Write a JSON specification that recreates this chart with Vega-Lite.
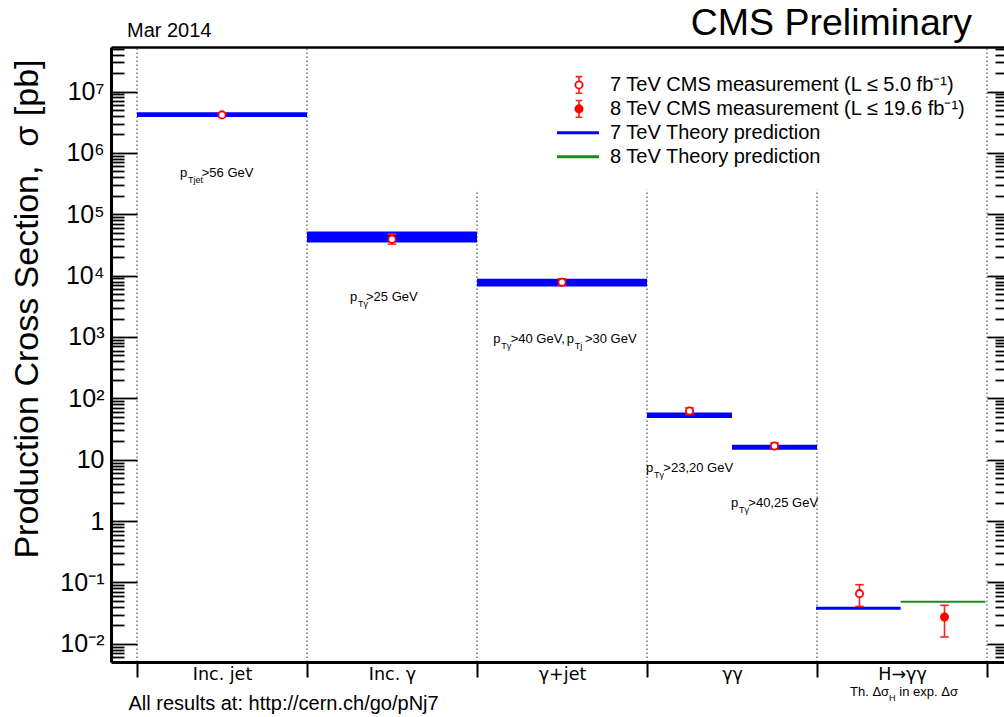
{
  "$schema": "https://vega.github.io/schema/vega-lite/v6.json",
  "width": 893,
  "height": 615,
  "autosize": {"type": "none"},
  "padding": {"left": 111, "top": 47, "right": 0, "bottom": 55},
  "background": "white",
  "config": {
    "font": "Liberation Sans",
    "view": {"stroke": null},
    "text": {"color": "black"}
  },
  "datasets": {
    "edges": [{"edge": 0}, {"edge": 1}, {"edge": 2}, {"edge": 3}, {"edge": 4}, {"edge": 5}],
    "theory": [
      {"process": "Inc. jet", "energy": "7 TeV", "from": 0, "to": 1, "low": 3850000, "high": 4600000},
      {"process": "Inc. γ", "energy": "7 TeV", "from": 1, "to": 2, "low": 34600, "high": 52300},
      {"process": "γ+jet", "energy": "7 TeV", "from": 2, "to": 3, "low": 6640, "high": 8870},
      {"process": "γγ (pT>23,20)", "energy": "7 TeV", "from": 3, "to": 3.5, "low": 47.8, "high": 58.9},
      {"process": "γγ (pT>40,25)", "energy": "7 TeV", "from": 3.5, "to": 4, "low": 14.6, "high": 17.5},
      {"process": "H→γγ", "energy": "7 TeV", "from": 3.994, "to": 4.492, "low": 0.0361, "high": 0.0404},
      {"process": "H→γγ", "energy": "8 TeV", "from": 4.492, "to": 4.99, "low": 0.0469, "high": 0.0506}
    ],
    "measured": [
      {"process": "Inc. jet", "energy": "7 TeV", "slot": 0.5, "sigma": 4160000, "low": 3900000, "high": 4450000},
      {"process": "Inc. γ", "energy": "7 TeV", "slot": 1.5, "sigma": 39300, "low": 32600, "high": 47400},
      {"process": "γ+jet", "energy": "7 TeV", "slot": 2.5, "sigma": 7830, "low": 6900, "high": 8900},
      {"process": "γγ (pT>23,20)", "energy": "7 TeV", "slot": 3.25, "sigma": 62.1, "low": 55, "high": 70},
      {"process": "γγ (pT>40,25)", "energy": "7 TeV", "slot": 3.75, "sigma": 16.7, "low": 14.9, "high": 18.8},
      {"process": "H→γγ", "energy": "7 TeV", "slot": 4.25, "sigma": 0.0658, "low": 0.0408, "high": 0.092},
      {"process": "H→γγ", "energy": "8 TeV", "slot": 4.75, "sigma": 0.0274, "low": 0.01295, "high": 0.0424}
    ],
    "key": [
      {"entry": "7 TeV CMS measurement (L ≤ 5.0 fb⁻¹)", "kind": "measurement", "energy": "7 TeV", "level": 12800000},
      {"entry": "8 TeV CMS measurement (L ≤ 19.6 fb⁻¹)", "kind": "measurement", "energy": "8 TeV", "level": 5210000},
      {"entry": "7 TeV Theory prediction", "kind": "theory", "energy": "7 TeV", "level": 2120000},
      {"entry": "8 TeV Theory prediction", "kind": "theory", "energy": "8 TeV", "level": 861000}
    ],
    "cuts": [
      {"sub": "Tjet", "rest": ">56 GeV", "at": 0.253, "restAt": 0.381, "level": 411000},
      {"sub": "Tγ", "rest": ">25 GeV", "at": 1.253, "restAt": 1.347, "level": 3810},
      {"sub": "Tγ", "rest": ">40 GeV,", "at": 2.096, "restAt": 2.198, "level": 796},
      {"sub": "Tj", "rest": ">30 GeV", "at": 2.528, "restAt": 2.635, "level": 796},
      {"sub": "Tγ", "rest": ">23,20 GeV", "at": 2.994, "restAt": 3.096, "level": 6.31},
      {"sub": "Tγ", "rest": ">40,25 GeV", "at": 3.494, "restAt": 3.596, "level": 1.7}
    ]
  },
  "resolve": {"axis": {"x": "independent", "y": "independent"}},
  "layer": [
    {
      "data": {"name": "edges"},
      "mark": {"type": "rule", "color": "#555555", "strokeWidth": 1.2, "strokeDash": [1.5, 2.5]},
      "encoding": {
        "x": {
          "field": "edge", "type": "quantitative",
          "scale": {"domain": [-0.153, 5.1], "nice": false, "zero": false},
          "axis": {
            "orient": "bottom", "zindex": 1, "grid": false,
            "values": [0, 0.5, 1, 1.5, 2, 2.5, 3, 3.5, 4, 4.5, 5],
            "domainColor": "black", "domainWidth": 3,
            "tickColor": "black", "tickWidth": 2, "tickSize": 15,
            "tickOpacity": {"condition": {"test": "datum.value % 1 != 0", "value": 0}, "value": 1},
            "labelExpr": "datum.value % 1 == 0 ? '' : ['Inc. jet','Inc. γ','γ+jet','γγ','H→γγ'][floor(datum.value)]",
            "labelFont": "DejaVu Sans",
            "labelFontSize": 17.5, "labelColor": "black", "labelPadding": -12, "labelOverlap": false,
            "title": "All results at: http://cern.ch/go/pNj7",
            "titleFontSize": 20, "titleFontWeight": "normal", "titleColor": "black",
            "titleX": 17, "titleY": 41, "titleAlign": "left", "titleBaseline": "middle"
          }
        },
        "y": {
          "datum": 0.00506, "type": "quantitative",
          "scale": {"type": "log", "domain": [0.00506, 53100000], "nice": false},
          "axis": {
            "orient": "left", "zindex": 1, "grid": false,
            "values": [0.006,0.007,0.008,0.009,0.01,0.02,0.03,0.04,0.05,0.06,0.07,0.08,0.09,0.1,0.2,0.3,0.4,0.5,0.6,0.7,0.8,0.9,1,2,3,4,5,6,7,8,9,10,20,30,40,50,60,70,80,90,100,200,300,400,500,600,700,800,900,1000,2000,3000,4000,5000,6000,7000,8000,9000,10000,20000,30000,40000,50000,60000,70000,80000,90000,100000,200000,300000,400000,500000,600000,700000,800000,900000,1000000,2000000,3000000,4000000,5000000,6000000,7000000,8000000,9000000,10000000,20000000,30000000,40000000,50000000],
            "domainColor": "black", "domainWidth": 3,
            "tickColor": "black", "tickWidth": 1.8,
            "tickSize": {"condition": {"test": "abs(log(datum.value)/LN10 - round(log(datum.value)/LN10)) < 0.001", "value": -26}, "value": -13},
            "labelExpr": "abs(log(datum.value)/LN10 - round(log(datum.value)/LN10)) > 0.001 ? '' : round(log(datum.value)/LN10) == 1 ? '10' : round(log(datum.value)/LN10) == 0 ? '1' : '10' + (datum.value < 1 ? '⁻' : '') + ['⁰','¹','²','³','⁴','⁵','⁶','⁷','⁸','⁹'][abs(round(log(datum.value)/LN10))]",
            "labelFontSize": 25, "labelColor": "black", "labelPadding": 33, "labelOverlap": false,
            "title": "Production Cross Section,\u00a0 σ [pb]",
            "titleFontSize": 34, "titleFontWeight": "normal", "titleColor": "black",
            "titleX": -84, "titleY": 12, "titleAngle": 270, "titleAlign": "right", "titleBaseline": "middle"
          }
        },
        "y2": {"datum": 53100000}
      }
    },
    {
      "data": {"values": [{}]},
      "mark": {"type": "rect", "fill": "white"},
      "encoding": {
        "x": {
          "datum": 1.95, "type": "quantitative",
          "scale": {"domain": [-0.153, 5.1], "nice": false, "zero": false},
          "axis": {"orient": "top", "zindex": 1, "grid": false, "ticks": false, "labels": false, "title": null, "domainColor": "black", "domainWidth": 2.5}
        },
        "x2": {"datum": 4.97},
        "y": {
          "datum": 250000, "type": "quantitative",
          "scale": {"type": "log", "domain": [0.00506, 53100000], "nice": false},
          "axis": {
            "orient": "right", "zindex": 1, "grid": false, "domain": false, "labels": false, "title": null,
            "values": [0.006,0.007,0.008,0.009,0.01,0.02,0.03,0.04,0.05,0.06,0.07,0.08,0.09,0.1,0.2,0.3,0.4,0.5,0.6,0.7,0.8,0.9,1,2,3,4,5,6,7,8,9,10,20,30,40,50,60,70,80,90,100,200,300,400,500,600,700,800,900,1000,2000,3000,4000,5000,6000,7000,8000,9000,10000,20000,30000,40000,50000,60000,70000,80000,90000,100000,200000,300000,400000,500000,600000,700000,800000,900000,1000000,2000000,3000000,4000000,5000000,6000000,7000000,8000000,9000000,10000000,20000000,30000000,40000000,50000000],
            "tickColor": "black", "tickWidth": 1.8,
            "tickSize": {"condition": {"test": "abs(log(datum.value)/LN10 - round(log(datum.value)/LN10)) < 0.001", "value": -17}, "value": -9}
          }
        },
        "y2": {"datum": 53100000}
      }
    },
    {
      "data": {"name": "theory"},
      "mark": {"type": "rect"},
      "encoding": {
        "x": {"field": "from", "type": "quantitative", "scale": {"domain": [-0.153, 5.1], "nice": false, "zero": false}, "axis": null},
        "x2": {"field": "to"},
        "y": {"field": "low", "type": "quantitative", "scale": {"type": "log", "domain": [0.00506, 53100000], "nice": false}, "axis": null},
        "y2": {"field": "high"},
        "color": {"field": "energy", "type": "nominal", "scale": {"domain": ["7 TeV", "8 TeV"], "range": ["#0000ff", "#1b8a1b"]}, "legend": null}
      }
    },
    {
      "data": {"name": "measured"},
      "mark": {"type": "rule", "color": "#ff2020", "strokeWidth": 1.6},
      "encoding": {
        "x": {"field": "slot", "type": "quantitative", "scale": {"domain": [-0.153, 5.1], "nice": false, "zero": false}, "axis": null},
        "y": {"field": "low", "type": "quantitative", "scale": {"type": "log", "domain": [0.00506, 53100000], "nice": false}, "axis": null},
        "y2": {"field": "high"}
      }
    },
    {
      "data": {"name": "measured"},
      "transform": [{"fold": ["low", "high"], "as": ["end", "bound"]}],
      "mark": {"type": "tick", "orient": "horizontal", "color": "#ff2020", "size": 8.5, "thickness": 1.6, "opacity": 1},
      "encoding": {
        "x": {"field": "slot", "type": "quantitative", "scale": {"domain": [-0.153, 5.1], "nice": false, "zero": false}, "axis": null},
        "y": {"field": "bound", "type": "quantitative", "scale": {"type": "log", "domain": [0.00506, 53100000], "nice": false}, "axis": null}
      }
    },
    {
      "data": {"name": "measured"},
      "mark": {"type": "point", "shape": "circle", "filled": true, "stroke": "#ff0000", "strokeWidth": 1.8, "size": 52, "opacity": 1},
      "encoding": {
        "x": {"field": "slot", "type": "quantitative", "scale": {"domain": [-0.153, 5.1], "nice": false, "zero": false}, "axis": null},
        "y": {"field": "sigma", "type": "quantitative", "scale": {"type": "log", "domain": [0.00506, 53100000], "nice": false}, "axis": null},
        "fill": {"field": "energy", "type": "nominal", "scale": {"domain": ["7 TeV", "8 TeV"], "range": ["#ffffff", "#ff0000"]}, "legend": null}
      }
    },
    {
      "data": {"name": "key"},
      "transform": [{"filter": "datum.kind == 'measurement'"}],
      "mark": {"type": "point", "shape": "M-0.4,-1H0.4M0,-1V1M-0.4,1H0.4", "filled": false, "stroke": "#ff2020", "strokeWidth": 1.6, "size": 276, "opacity": 1},
      "encoding": {
        "x": {"datum": 2.6, "type": "quantitative", "scale": {"domain": [-0.153, 5.1], "nice": false, "zero": false}, "axis": null},
        "y": {"field": "level", "type": "quantitative", "scale": {"type": "log", "domain": [0.00506, 53100000], "nice": false}, "axis": null}
      }
    },
    {
      "data": {"name": "key"},
      "transform": [{"filter": "datum.kind == 'measurement'"}],
      "mark": {"type": "point", "shape": "circle", "filled": true, "stroke": "#ff0000", "strokeWidth": 1.8, "size": 52, "opacity": 1},
      "encoding": {
        "x": {"datum": 2.6, "type": "quantitative", "scale": {"domain": [-0.153, 5.1], "nice": false, "zero": false}, "axis": null},
        "y": {"field": "level", "type": "quantitative", "scale": {"type": "log", "domain": [0.00506, 53100000], "nice": false}, "axis": null},
        "fill": {"field": "energy", "type": "nominal", "scale": {"domain": ["7 TeV", "8 TeV"], "range": ["#ffffff", "#ff0000"]}, "legend": null}
      }
    },
    {
      "data": {"name": "key"},
      "transform": [{"filter": "datum.kind == 'theory'"}],
      "mark": {"type": "point", "shape": "M-1,0H1", "filled": false, "strokeWidth": 3, "size": 1764, "opacity": 1},
      "encoding": {
        "x": {"datum": 2.594, "type": "quantitative", "scale": {"domain": [-0.153, 5.1], "nice": false, "zero": false}, "axis": null},
        "y": {"field": "level", "type": "quantitative", "scale": {"type": "log", "domain": [0.00506, 53100000], "nice": false}, "axis": null},
        "color": {"field": "energy", "type": "nominal", "scale": {"domain": ["7 TeV", "8 TeV"], "range": ["#0000ff", "#1b8a1b"]}, "legend": null}
      }
    },
    {
      "data": {"name": "key"},
      "mark": {"type": "text", "align": "left", "baseline": "middle", "fontSize": 20},
      "encoding": {
        "x": {"datum": 2.782, "type": "quantitative", "scale": {"domain": [-0.153, 5.1], "nice": false, "zero": false}, "axis": null},
        "y": {"field": "level", "type": "quantitative", "scale": {"type": "log", "domain": [0.00506, 53100000], "nice": false}, "axis": null},
        "text": {"field": "entry"}
      }
    },
    {
      "data": {"name": "cuts"},
      "mark": {"type": "text", "align": "left", "baseline": "alphabetic", "fontSize": 13, "text": "p"},
      "encoding": {
        "x": {"field": "at", "type": "quantitative", "scale": {"domain": [-0.153, 5.1], "nice": false, "zero": false}, "axis": null},
        "y": {"field": "level", "type": "quantitative", "scale": {"type": "log", "domain": [0.00506, 53100000], "nice": false}, "axis": null}
      }
    },
    {
      "data": {"name": "cuts"},
      "mark": {"type": "text", "align": "left", "baseline": "alphabetic", "fontSize": 9, "dx": 8, "dy": 6},
      "encoding": {
        "x": {"field": "at", "type": "quantitative", "scale": {"domain": [-0.153, 5.1], "nice": false, "zero": false}, "axis": null},
        "y": {"field": "level", "type": "quantitative", "scale": {"type": "log", "domain": [0.00506, 53100000], "nice": false}, "axis": null},
        "text": {"field": "sub"}
      }
    },
    {
      "data": {"name": "cuts"},
      "mark": {"type": "text", "align": "left", "baseline": "alphabetic", "fontSize": 13},
      "encoding": {
        "x": {"field": "restAt", "type": "quantitative", "scale": {"domain": [-0.153, 5.1], "nice": false, "zero": false}, "axis": null},
        "y": {"field": "level", "type": "quantitative", "scale": {"type": "log", "domain": [0.00506, 53100000], "nice": false}, "axis": null},
        "text": {"field": "rest"}
      }
    },
    {
      "data": {"values": [{}]},
      "mark": {"type": "text", "align": "left", "baseline": "alphabetic", "fontSize": 20, "text": "Mar 2014"},
      "encoding": {
        "x": {"datum": -0.059, "type": "quantitative", "scale": {"domain": [-0.153, 5.1], "nice": false, "zero": false}, "axis": null},
        "y": {"datum": 77500000, "type": "quantitative", "scale": {"type": "log", "domain": [0.00506, 53100000], "nice": false}, "axis": null}
      }
    },
    {
      "data": {"values": [{}]},
      "mark": {"type": "text", "align": "right", "baseline": "alphabetic", "fontSize": 37.5, "text": "CMS Preliminary"},
      "encoding": {
        "x": {"datum": 4.912, "type": "quantitative", "scale": {"domain": [-0.153, 5.1], "nice": false, "zero": false}, "axis": null},
        "y": {"datum": 82000000, "type": "quantitative", "scale": {"type": "log", "domain": [0.00506, 53100000], "nice": false}, "axis": null}
      }
    },
    {
      "data": {"values": [{"piece": "Th. Δσ", "at": 4.194}, {"piece": "in exp. Δσ", "at": 4.484}]},
      "mark": {"type": "text", "align": "left", "baseline": "alphabetic", "fontSize": 13},
      "encoding": {
        "x": {"field": "at", "type": "quantitative", "scale": {"domain": [-0.153, 5.1], "nice": false, "zero": false}, "axis": null},
        "y": {"datum": 0.0014, "type": "quantitative", "scale": {"type": "log", "domain": [0.00506, 53100000], "nice": false}, "axis": null},
        "text": {"field": "piece"}
      }
    },
    {
      "data": {"values": [{"piece": "H", "at": 4.424}]},
      "mark": {"type": "text", "align": "left", "baseline": "alphabetic", "fontSize": 9, "dy": 5},
      "encoding": {
        "x": {"field": "at", "type": "quantitative", "scale": {"domain": [-0.153, 5.1], "nice": false, "zero": false}, "axis": null},
        "y": {"datum": 0.0014, "type": "quantitative", "scale": {"type": "log", "domain": [0.00506, 53100000], "nice": false}, "axis": null},
        "text": {"field": "piece"}
      }
    }
  ]
}
